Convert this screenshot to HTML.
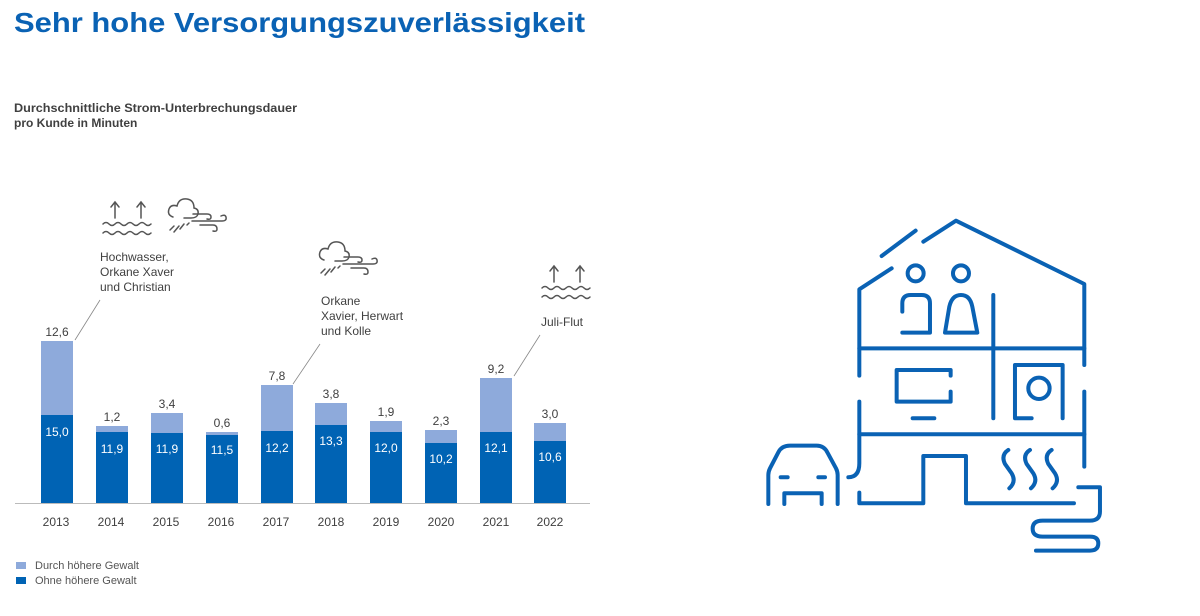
<!DOCTYPE html>
<html><head><meta charset="utf-8"><style>
html,body{margin:0;padding:0;background:#fff;}
svg{display:block;font-family:"Liberation Sans",Arial,sans-serif;}
</style></head><body>
<svg width="1200" height="616" viewBox="0 0 1200 616" xmlns="http://www.w3.org/2000/svg">
<text x="14" y="32" font-size="28" font-weight="bold" fill="#0a62b4" textLength="571" lengthAdjust="spacingAndGlyphs">Sehr hohe Versorgungszuverlässigkeit</text>
<text x="14" y="112" font-size="12" font-weight="bold" fill="#404040" textLength="283" lengthAdjust="spacingAndGlyphs">Durchschnittliche Strom-Unterbrechungsdauer</text>
<text x="14" y="127" font-size="12" font-weight="bold" fill="#404040">pro Kunde in Minuten</text>

<!-- bars -->
<g>
<rect x="41" y="341" width="32" height="74" fill="#8eaadb"/><rect x="41" y="415" width="32" height="88" fill="#0063b4"/>
<rect x="96" y="426" width="32" height="6" fill="#8eaadb"/><rect x="96" y="432" width="32" height="71" fill="#0063b4"/>
<rect x="151" y="413" width="32" height="20" fill="#8eaadb"/><rect x="151" y="433" width="32" height="70" fill="#0063b4"/>
<rect x="206" y="432" width="32" height="3" fill="#8eaadb"/><rect x="206" y="435" width="32" height="68" fill="#0063b4"/>
<rect x="261" y="385" width="32" height="46" fill="#8eaadb"/><rect x="261" y="431" width="32" height="72" fill="#0063b4"/>
<rect x="315" y="403" width="32" height="22" fill="#8eaadb"/><rect x="315" y="425" width="32" height="78" fill="#0063b4"/>
<rect x="370" y="421" width="32" height="11" fill="#8eaadb"/><rect x="370" y="432" width="32" height="71" fill="#0063b4"/>
<rect x="425" y="430" width="32" height="13" fill="#8eaadb"/><rect x="425" y="443" width="32" height="60" fill="#0063b4"/>
<rect x="480" y="378" width="32" height="54" fill="#8eaadb"/><rect x="480" y="432" width="32" height="71" fill="#0063b4"/>
<rect x="534" y="423" width="32" height="18" fill="#8eaadb"/><rect x="534" y="441" width="32" height="62" fill="#0063b4"/>
</g>
<line x1="15" y1="503.5" x2="590" y2="503.5" stroke="#bbb" stroke-width="1"/>
<g font-size="12" fill="#404040" text-anchor="middle">
<text x="57" y="336">12,6</text><text x="112" y="421">1,2</text><text x="167" y="408">3,4</text><text x="222" y="427">0,6</text>
<text x="277" y="380">7,8</text><text x="331" y="398">3,8</text><text x="386" y="416">1,9</text><text x="441" y="425">2,3</text>
<text x="496" y="373">9,2</text><text x="550" y="418">3,0</text>
</g>
<g font-size="12" fill="#fff" text-anchor="middle">
<text x="57" y="436">15,0</text><text x="112" y="453">11,9</text><text x="167" y="453">11,9</text><text x="222" y="454">11,5</text>
<text x="277" y="452">12,2</text><text x="331" y="445">13,3</text><text x="386" y="452">12,0</text><text x="441" y="463">10,2</text>
<text x="496" y="452">12,1</text><text x="550" y="461">10,6</text>
</g>
<g font-size="12" fill="#404040" text-anchor="middle">
<text x="56" y="526">2013</text><text x="111" y="526">2014</text><text x="166" y="526">2015</text><text x="221" y="526">2016</text>
<text x="276" y="526">2017</text><text x="331" y="526">2018</text><text x="386" y="526">2019</text><text x="441" y="526">2020</text>
<text x="496" y="526">2021</text><text x="550" y="526">2022</text>
</g>
<!-- annotations -->
<g stroke="#888" stroke-width="0.8">
<line x1="75" y1="340" x2="100" y2="300"/><line x1="293" y1="384" x2="320" y2="344"/><line x1="514" y1="376" x2="540" y2="335"/>
</g>
<g font-size="12" fill="#404040">
<text x="100" y="261">Hochwasser,</text><text x="100" y="276">Orkane Xaver</text><text x="100" y="291">und Christian</text>
<text x="321" y="305">Orkane</text><text x="321" y="320">Xavier, Herwart</text><text x="321" y="335">und Kolle</text>
<text x="541" y="326">Juli-Flut</text>
</g>
<!-- icons -->
<defs>
<g id="flood" fill="none" stroke="#555" stroke-width="1.5" stroke-linecap="round">
<path d="M12,18 V3 M8,7 L12,2 L16,7 M38,18 V3 M34,7 L38,2 L42,7"/>
<path d="M0,24 q3,-3 6,0 t6,0 t6,0 t6,0 t6,0 t6,0 t6,0 t6,0"/>
<path d="M0,33 q3,-3 6,0 t6,0 t6,0 t6,0 t6,0 t6,0 t6,0 t6,0"/>
</g>
<g id="cloud" fill="none" stroke="#555" stroke-width="1.5" stroke-linecap="round">
<path d="M6,20 Q0,18 2,12 Q4,7 10,9 Q12,1 20,2 Q27,3 27,11 Q32,12 31,17 Q30,21 24,21 H17"/>
<path d="M26,17 H40 Q44,17 44,20 Q44,23 40,22 M25,24 H55 Q60,24 59,20 Q58,17 54,19 M33,28 H46 Q50,28 50,32 Q50,35 46,34"/>
<path d="M3,33 L7,29 M7,35 L12,29 M13,32 L17,27 M20,28 L22,26"/>
</g>
</defs>
<use href="#flood" x="103" y="200"/>
<use href="#cloud" x="167" y="197"/>
<use href="#cloud" x="318" y="240"/>
<use href="#flood" x="542" y="264"/>
<!-- legend -->
<rect x="16" y="562" width="10" height="7" fill="#8eaadb"/>
<rect x="16" y="577" width="10" height="7" fill="#0063b4"/>
<text x="35" y="569" font-size="11" fill="#555">Durch höhere Gewalt</text>
<text x="35" y="584" font-size="11" fill="#555">Ohne  höhere Gewalt</text>

<!-- house -->
<g transform="translate(750,200) scale(0.3333)" fill="none" stroke="#0a62b4" stroke-width="12" stroke-linecap="round" stroke-linejoin="round">
<path d="M395,168 L497,92"/>
<path d="M520,125 L618,62 L1003,252 V495"/>
<path d="M425,205 L328,268 V527"/>
<path d="M328,605 V790 Q328,832 295,832"/>
<path d="M328,445 H1003 M328,703 H1003"/>
<path d="M1003,575 V800"/>
<path d="M730,285 V655"/>
<circle cx="497" cy="220" r="24"/>
<path d="M457,335 V310 Q457,285 482,285 H515 Q540,285 540,310 V398 H457"/>
<circle cx="633" cy="220" r="24"/>
<path d="M585,398 L598,320 Q606,285 633,285 Q660,285 667,320 L682,398 Z"/>
<path d="M602,527 V510 H440 V605 H602 V575"/>
<path d="M488,655 H553"/>
<path d="M845,655 H795 V495 H938 V655"/>
<circle cx="867" cy="565" r="32"/>
<path d="M328,878 V910 H520 V768 H648 V910 H972"/>
<path d="M775,750 Q752,765 765,792 L785,820 Q800,845 778,865"/>
<path d="M840,750 Q817,765 830,792 L850,820 Q865,845 843,865"/>
<path d="M905,750 Q882,765 895,792 L915,820 Q930,845 908,865"/>
<path d="M985,862 H1050 V935 Q1050,962 1020,962 H878 Q848,962 848,986 Q848,1010 878,1010 H1020 Q1045,1010 1045,1030 Q1045,1052 1020,1052 H858"/>
<path d="M55,912 V825 Q55,815 60,805 L85,757 Q95,737 120,737 H200 Q222,737 232,757 L258,805 Q263,815 263,825 V912"/>
<path d="M92,832 H113 M205,832 H225"/>
<path d="M103,912 V880 H215 V912"/>
</g>
</svg>
</body></html>
